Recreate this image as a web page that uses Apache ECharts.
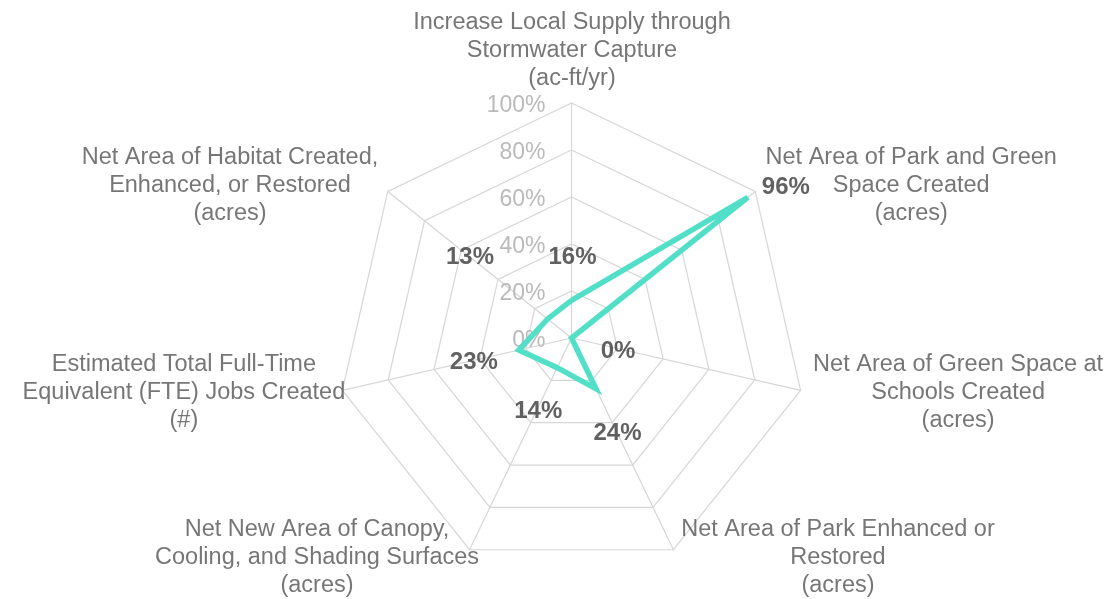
<!DOCTYPE html>
<html><head><meta charset="utf-8">
<script src="https://cdn.jsdelivr.net/npm/echarts@6/dist/echarts.min.js"></script>
<style>html,body{margin:0;padding:0;background:#fff}#c{width:1108px;height:599px}</style>
</head><body><div id="c"></div>
<script>
// ---- data ----
const categories = [
  'Increase Local Supply through\nStormwater Capture\n(ac-ft/yr)',
  'Net Area of Park and Green\nSpace Created\n(acres)',
  'Net Area of Green Space at\nSchools Created\n(acres)',
  'Net Area of Park Enhanced or\nRestored\n(acres)',
  'Net New Area of Canopy,\nCooling, and Shading Surfaces\n(acres)',
  'Estimated Total Full-Time\nEquivalent (FTE) Jobs Created\n(#)',
  'Net Area of Habitat Created,\nEnhanced, or Restored\n(acres)'
];
const values = [16, 96, 0, 24, 14, 23, 13];
const tickValues = [0, 20, 40, 60, 80, 100];
const tickLabels = ['0%', '20%', '40%', '60%', '80%', '100%'];

// ---- layout / style ----
const CENTER = [571.5, 338];
const RADIUS = 235;
const FONT = '"Liberation Sans", Arial, sans-serif';
const valueLabelOffsets = [[1,-43],[38,-10],[46.5,13],[21.5,45],[-19,44],[-45,12],[-77.6,-62]];
const nameLabelOffsets = [[0.5,-52],[156,-5.5],[157.5,2.7],[164.5,8],[-152.5,8],[-158.5,2.7],[-157.8,-5.5]];

const n = categories.length;
// ECharts radar places indicators counter-clockwise; reorder so they run clockwise
const order = [0].concat(Array.from({length: n - 1}, (_, k) => n - 1 - k));

const chart = echarts.init(document.getElementById('c'));
chart.setOption({
  animation: false,
  backgroundColor: '#ffffff',
  radar: {
    center: CENTER, radius: RADIUS, startAngle: 90, shape: 'polygon', splitNumber: 5,
    indicator: order.map(i => ({ name: categories[i], min: 0, max: 100 })),
    axisName: { show: false },
    axisLine: { lineStyle: { color: '#d6d6d6', width: 1.2 } },
    splitLine: { lineStyle: { color: '#d6d6d6', width: 1.2 } },
    splitArea: { show: false },
    axisTick: { show: false },
    axisLabel: { show: false }
  },
  polar: { center: CENTER, radius: RADIUS },
  angleAxis: {
    type: 'value', min: 0, max: 360, startAngle: 90, clockwise: true,
    axisLine: { show: false }, axisTick: { show: false }, axisLabel: { show: false }, splitLine: { show: false }
  },
  radiusAxis: {
    type: 'value', min: tickValues[0], max: tickValues[tickValues.length - 1], interval: 20,
    axisLine: { show: false }, axisTick: { show: false }, splitLine: { show: false },
    axisLabel: {
      formatter: v => '{t|' + tickLabels[tickValues.indexOf(v)] + '}',
      margin: 26,
      rich: { t: { color: '#bababa', fontSize: 23, fontFamily: FONT, padding: [6, 0, 0, 0] } }
    }
  },
  series: [
    {
      type: 'radar',
      symbol: 'none',
      lineStyle: { color: '#52dfc7', width: 5.5, join: 'miter' },
      data: [{ value: order.map(i => values[i]) }],
      silent: true
    },
    {
      type: 'scatter', coordinateSystem: 'polar', symbolSize: 1, silent: true,
      itemStyle: { color: 'rgba(0,0,0,0)' },
      data: values.map((v, i) => ({ value: [v, i * 360 / n], label: { offset: valueLabelOffsets[i] } })),
      label: {
        show: true, position: 'inside',
        formatter: p => values[p.dataIndex] + '%',
        color: '#3a3a3a', fontSize: 24, fontWeight: 'bold', fontFamily: FONT
      },
      z: 5
    },
    {
      type: 'scatter', coordinateSystem: 'polar', symbolSize: 1, silent: true,
      itemStyle: { color: 'rgba(0,0,0,0)' },
      data: categories.map((c, i) => ({ value: [100, i * 360 / n], label: { offset: nameLabelOffsets[i] } })),
      label: {
        show: true, position: 'inside',
        formatter: p => categories[p.dataIndex],
        color: '#545454', fontSize: 23.5, lineHeight: 28, fontFamily: FONT, align: 'center'
      },
      z: 5
    }
  ]
});
</script>
</body></html>
